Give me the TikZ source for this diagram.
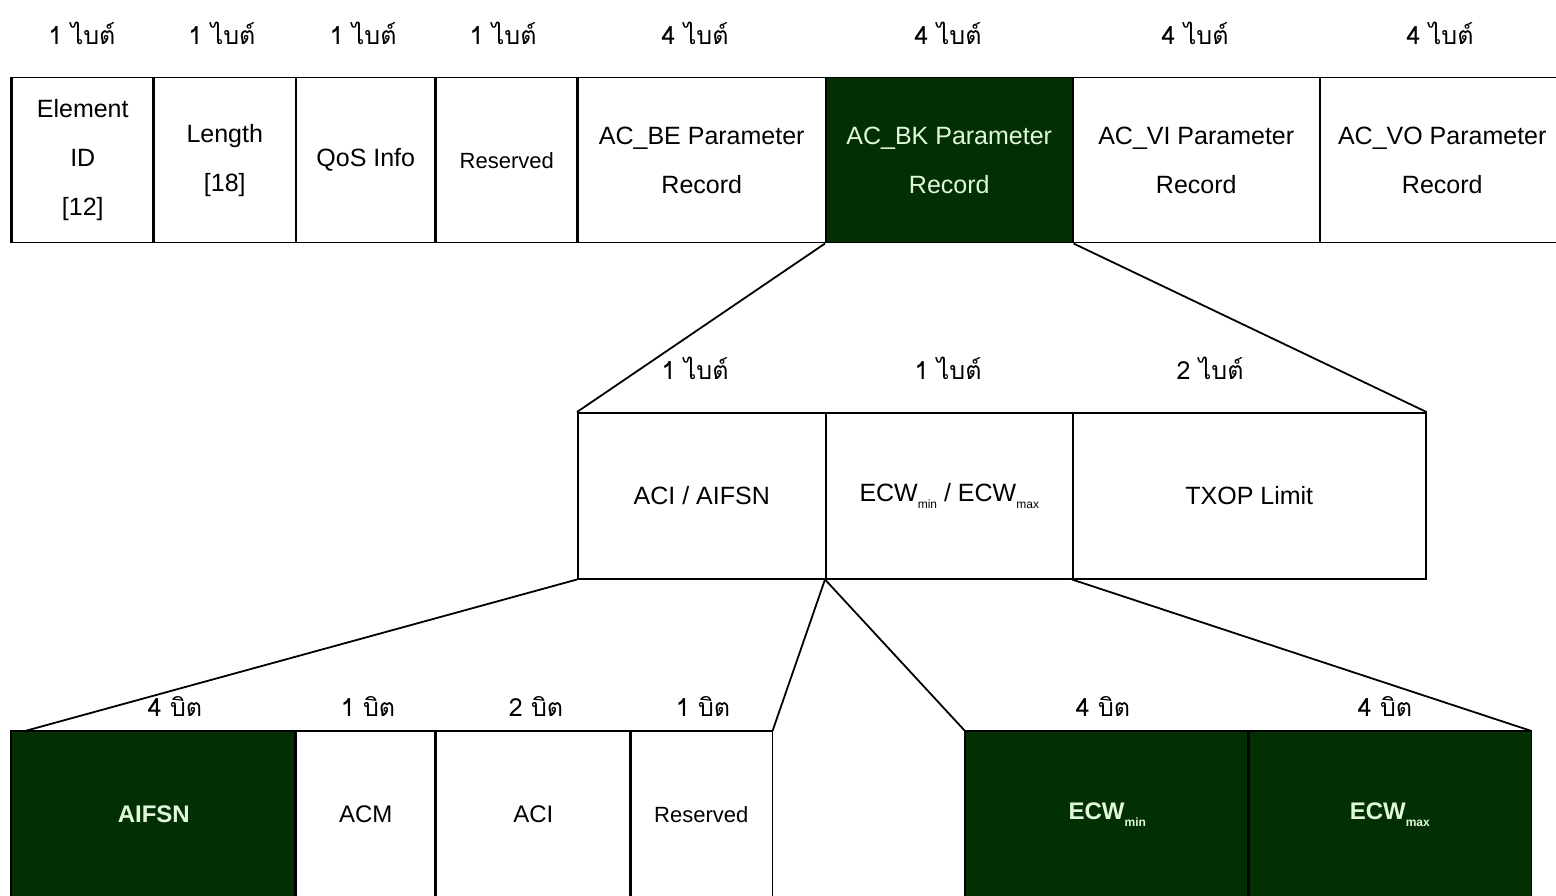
\documentclass[tikz,border=0pt]{standalone}
\usepackage{fontspec}
\setmainfont{Liberation Sans}
\newfontfamily\thaifont[Script=Thai]{Loma}
\definecolor{dkg}{HTML}{033003}
\definecolor{ltg}{HTML}{E2F8DC}
\newcommand{\lowsub}[1]{\raisebox{-7pt}{\fontsize{12}{12}\selectfont #1}}
\begin{document}
\begin{tikzpicture}[x=1pt,y=-1pt,
  cell/.style={draw=black, line width=1.5pt, anchor=north west, inner sep=0pt,
    align=center, font=\fontsize{25}{49}\selectfont},
  botcell/.style={cell, draw=none, minimum height=165pt, font=\fontsize{24}{30}\selectfont},
  dark/.style={fill=dkg, text=ltg},
  sz/.style={font=\thaifont\fontsize{25}{28}\selectfont, inner sep=0pt},
  link/.style={line width=1.8pt},
  boxline/.style={line width=1.5pt},
  thick divider/.style={line width=3pt}]
\useasboundingbox (0,0) rectangle (1556,896);
\fill[white] (0,0) rectangle (1556,896);

% top row
\node[cell, minimum width=142pt, minimum height=165pt] (eid) at (11,77) {Element\\ID\\{[12]}};
\node[cell, minimum width=142pt, minimum height=165pt] (len) at (153,77) {Length\\{[18]}};
\node[cell, minimum width=140pt, minimum height=165pt] (qos) at (295,77) {QoS Info};
\node[cell, minimum width=142pt, minimum height=165pt, font=\fontsize{22}{49}\selectfont] (res) at (435,77) {Reserved};
\node[cell, minimum width=248pt, minimum height=165pt] (be) at (577,77) {AC\_BE Parameter\\Record};
\node[cell, dark, minimum width=247pt, minimum height=165pt] (bk) at (825,77) {AC\_BK Parameter\\Record};
\node[cell, minimum width=247pt, minimum height=165pt] (vi) at (1072,77) {AC\_VI Parameter\\Record};
\node[cell, minimum width=245pt, minimum height=165pt] (vo) at (1319,77) {AC\_VO Parameter\\Record};
\draw[thick divider] (eid.north west) -- (eid.south west);
\draw[thick divider] (len.north west) -- (len.south west);
\draw[thick divider] (res.north west) -- (res.south west);
\draw[thick divider] (be.north west) -- (be.south west);

\node[sz] (t1) at (82,33) {1 ไบต์};
\node[sz] (t2) at (222,33) {1 ไบต์};
\node[sz] (t3) at (363,33) {1 ไบต์};
\node[sz] (t4) at (503,33) {1 ไบต์};
\node[sz] (t5) at (695,33) {4 ไบต์};
\node[sz] (t6) at (948,33) {4 ไบต์};
\node[sz] (t7) at (1195,33) {4 ไบต์};
\node[sz] (t8) at (1440,33) {4 ไบต์};

% middle row
\node[cell, minimum width=248pt, minimum height=166pt] (aci) at (577,412) {ACI / AIFSN};
\node[cell, minimum width=247pt, minimum height=166pt] (ecw) at (825,412) {ECW\lowsub{min} / ECW\lowsub{max}};
\node[cell, minimum width=353pt, minimum height=166pt] (txop) at (1072,412) {TXOP Limit};

\node[sz] (m1) at (695,368) {1 ไบต์};
\node[sz] (m2) at (948,368) {1 ไบต์};
\node[sz] (m3) at (1210,368) {2 ไบต์};

\draw[link] (bk.south west) -- (aci.north west);
\draw[link] (bk.south east) -- (txop.north east);

% bottom row (cut off by the lower edge)
\node[botcell, dark, minimum width=284pt, font=\bfseries\fontsize{24}{30}\selectfont] (aifsn) at (11,731) {AIFSN};
\node[botcell, minimum width=140pt] (acm) at (295,731) {ACM};
\node[botcell, minimum width=195pt] (acib) at (435,731) {ACI};
\node[botcell, minimum width=141pt, font=\fontsize{22}{30}\selectfont] (resb) at (630,731) {Reserved};
\node[botcell, dark, minimum width=283pt, font=\bfseries\fontsize{24}{30}\selectfont] (emin) at (965,731) {ECW\lowsub{min}};
\node[botcell, dark, minimum width=282pt, font=\bfseries\fontsize{24}{30}\selectfont] (emax) at (1248,731) {ECW\lowsub{max}};
\foreach \b in {aifsn,acm,acib,resb,emin,emax}
  \draw[boxline] ([yshift=-10pt]\b.south west) -- (\b.north west) -- (\b.north east) -- ([yshift=-10pt]\b.south east);

\node[sz] (b1) at (175,706) {4 บิต};
\node[sz] (b2) at (368,706) {1 บิต};
\node[sz] (b3) at (536,706) {2 บิต};
\node[sz] (b4) at (703,706) {1 บิต};
\node[sz] (b5) at (1103,706) {4 บิต};
\node[sz] (b6) at (1385,706) {4 บิต};

\draw[link] (aci.south west) -- ([xshift=14pt]aifsn.north west);
\draw[link] (ecw.south west) -- (resb.north east);
\draw[link] (ecw.south west) -- (emin.north west);
\draw[link] (txop.south west) -- (emax.north east);
\end{tikzpicture}
\end{document}
